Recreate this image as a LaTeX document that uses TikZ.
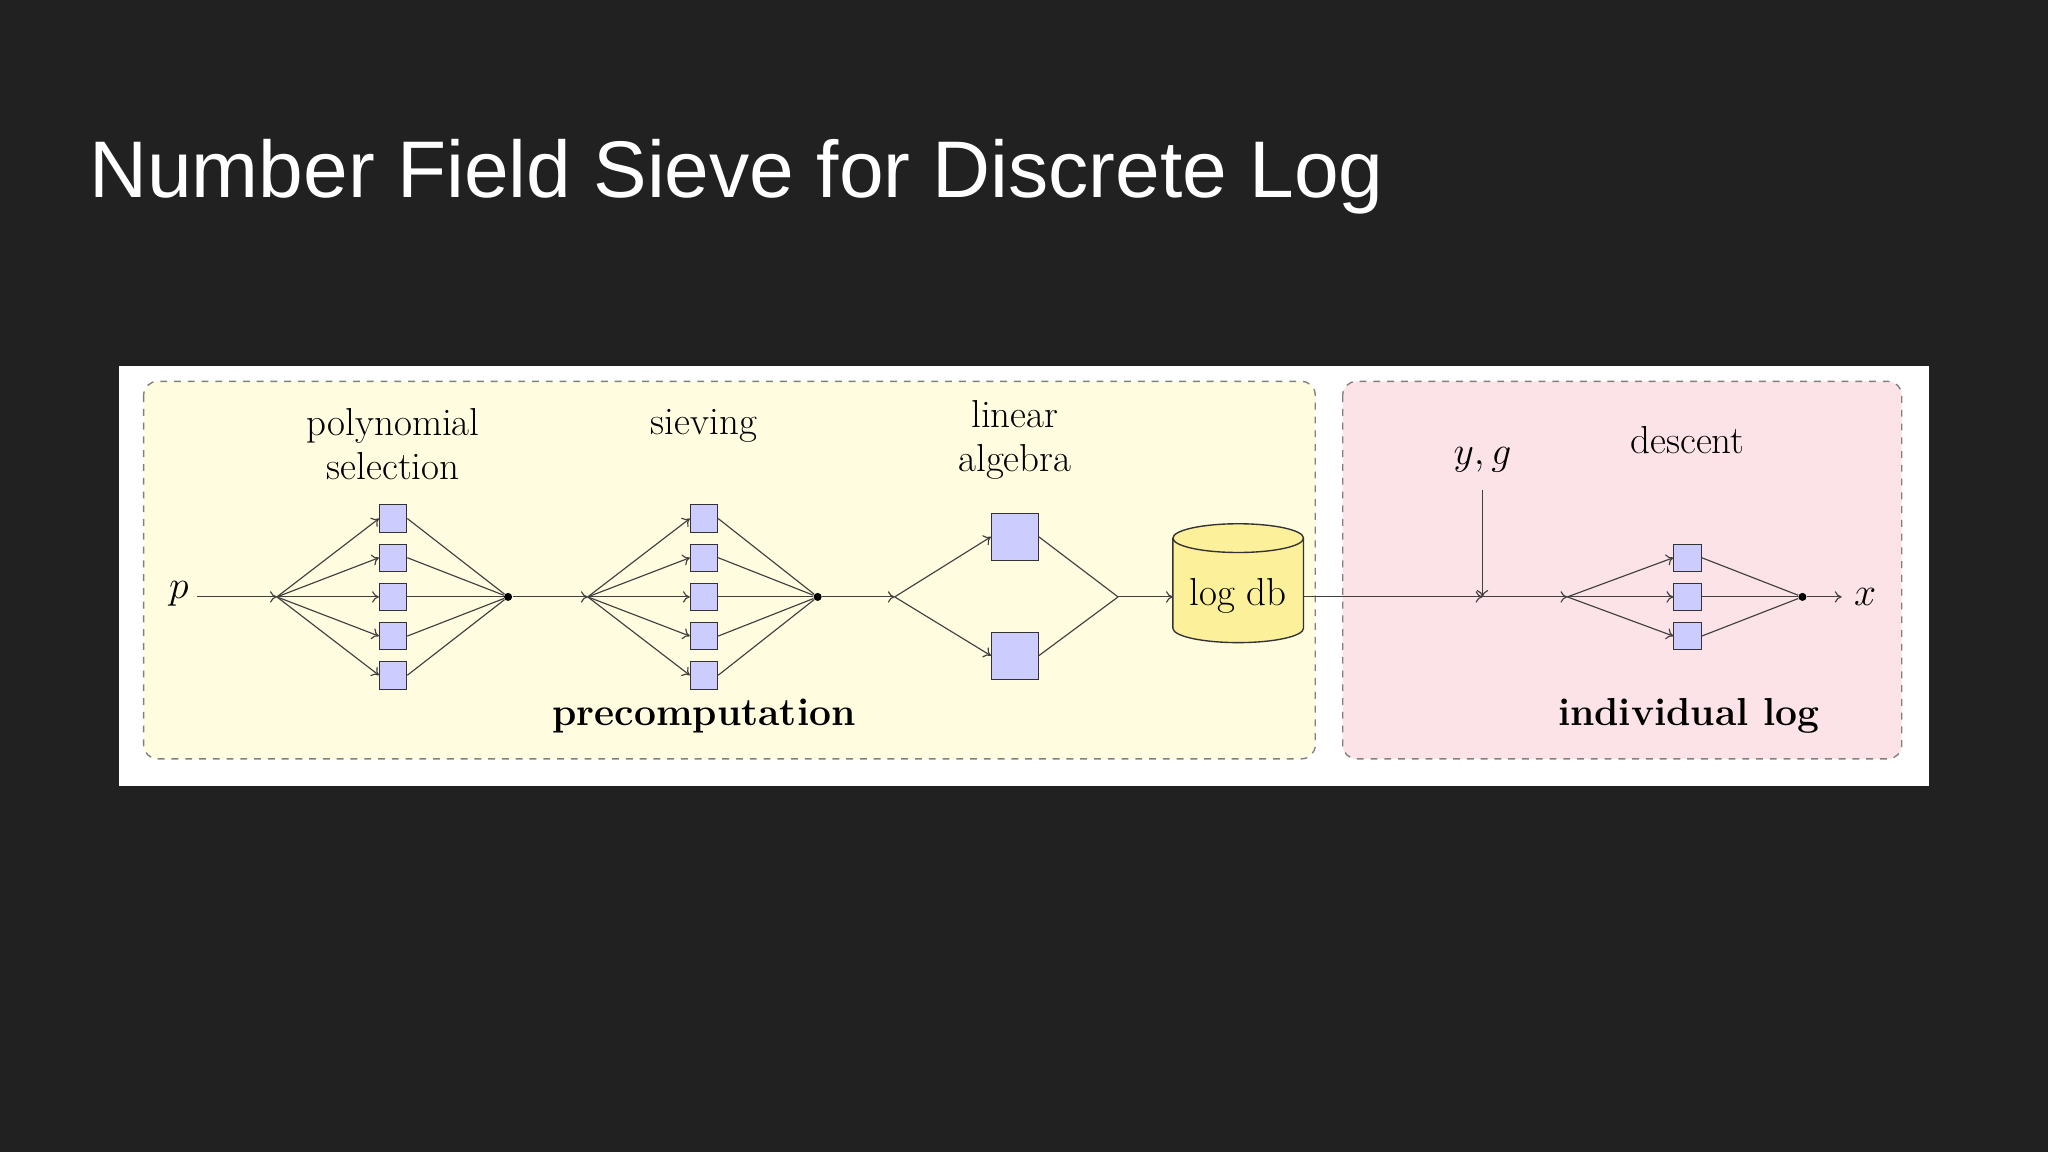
\documentclass[tikz,border=0pt]{standalone}
\usepackage{fontspec}
\newfontfamily\titlefont{Liberation Sans}
\usetikzlibrary{arrows.meta}
\definecolor{bg}{HTML}{212121}
\definecolor{ylw}{HTML}{FFFCE0}
\definecolor{pnk}{HTML}{FCE3E8}
\definecolor{bx}{HTML}{CCCCFF}
\definecolor{cyl}{HTML}{FCF09A}
\begin{document}
\begin{tikzpicture}[x=0.02cm,y=-0.02cm,
  sb/.style={draw=black!80,fill=bx,minimum size=0.42cm,inner sep=0pt},
  bb/.style={draw=black!80,fill=bx,minimum size=0.72cm,inner sep=0pt},
  ed/.style={draw=black!75,line width=0.5pt},
  ar/.style={ed,-{To[length=3pt,width=5pt]}},
  lbl/.style={font=\fontsize{17}{19}\selectfont,align=center},
  dot/.style={circle,fill=black,inner sep=0pt,minimum size=3.5pt}]
\useasboundingbox (0,0) rectangle (1568,882);
\fill[bg] (0,0) rectangle (1568,882);
\node[anchor=base west,text=white,inner sep=0pt,font=\titlefont\fontsize{35}{42}\selectfont] (title) at (68,151) {Number Field Sieve for Discrete Log};
\fill[white] (91,280) rectangle (1477,602);
\draw[gray,dashed,fill=ylw,rounded corners=6pt,line width=0.6pt] (110,292) rectangle (1007,581);
\draw[gray,dashed,fill=pnk,rounded corners=6pt,line width=0.6pt] (1028,292) rectangle (1456,581);
% labels
\node[lbl] (lp) at (301,340) {polynomial\\selection};
\node[lbl] (ls) at (539,326) {sieving};
\node[lbl] (ll) at (777,337) {linear\\algebra};
\node[lbl] (ld) at (1292,337) {descent};
\node[lbl] (lyg) at (1135,352) {$y,g$};
\node[lbl,font=\fontsize{17}{19}\selectfont\bfseries] (lpre) at (539,548) {precomputation};
\node[lbl,font=\fontsize{17}{19}\selectfont\bfseries] (lind) at (1293,548) {individual log};
\node[lbl] (p) at (137,455) {$p$};
\node[lbl] (x) at (1428,457) {$x$};
% junctions
\coordinate (s1) at (212,457); \node[dot] (m1) at (389,457) {};
\coordinate (s2) at (450,457); \node[dot] (m2) at (626,457) {};
\coordinate (s3) at (685,457); \coordinate (m3) at (856,457);
\coordinate (s4) at (1200,457); \node[dot] (m4) at (1380,457) {};
\coordinate (yj) at (1135,457); \coordinate (ytop) at (1135,375);
\coordinate (xe) at (1410,457);
% cylinder
\draw[draw=black!80,fill=cyl,line width=0.6pt] (898,412) -- (898,481) arc[start angle=180,end angle=360,x radius=50,y radius=-11] -- (998,412) arc[start angle=0,end angle=180,x radius=50,y radius=-11] -- cycle;
\draw[draw=black!80,line width=0.6pt] (898,412) arc[start angle=180,end angle=360,x radius=50,y radius=-11];
\coordinate (dbw) at (898,457); \coordinate (dbe) at (998,457);
\node[lbl] (dbl) at (948,456) {log db};
% boxes
\foreach \i/\y in {1/397,2/427,3/457,4/487,5/517}{
  \node[sb] (a\i) at (301,\y) {};
  \node[sb] (b\i) at (539,\y) {};
  \draw[ar] (s1) -- (a\i.west);
  \draw[ed] (a\i.east) -- (m1);
  \draw[ar] (s2) -- (b\i.west);
  \draw[ed] (b\i.east) -- (m2);
}
\node[bb] (c1) at (777,411) {};
\node[bb] (c2) at (777,502) {};
\foreach \i in {1,2}{
  \draw[ar] (s3) -- (c\i.west);
  \draw[ed] (c\i.east) -- (m3);
}
\foreach \i/\y in {1/427,2/457,3/487}{
  \node[sb] (d\i) at (1292,\y) {};
  \draw[ar] (s4) -- (d\i.west);
  \draw[ed] (d\i.east) -- (m4);
}
\draw[ar] (p.east|-s1) -- (s1);
\draw[ar] (m1) -- (s2);
\draw[ar] (m2) -- (s3);
\draw[ar] (m3) -- (dbw);
\draw[ar] (dbe) -- (yj);
\draw[ar] (ytop) -- (yj);
\draw[ar] (yj) -- (s4);
\draw[ar] (m4) -- (xe);
\end{tikzpicture}
\end{document}
